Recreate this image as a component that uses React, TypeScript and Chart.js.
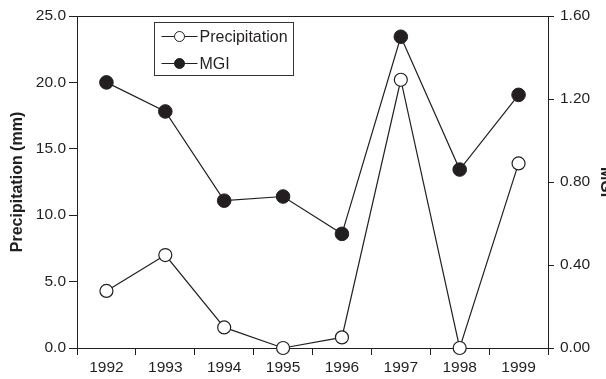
import React, { useEffect, useRef } from 'react';
import { Chart, registerables } from 'chart.js';

Chart.register(...registerables);

const years = ['1992', '1993', '1994', '1995', '1996', '1997', '1998', '1999'];
const precipitation = [4.3, 7.0, 1.55, 0.0, 0.8, 20.2, 0.0, 13.9];
const mgi = [1.28, 1.14, 0.71, 0.73, 0.55, 1.5, 0.86, 1.22];

const precipMin = 0;
const precipMax = 25;
const precipStep = 5;
const mgiMin = 0;
const mgiMax = 1.6;
const mgiStep = 0.4;

const leftTitle = 'Precipitation (mm)';
const rightTitle = 'MGI';

const FONT = "'Liberation Sans', Arial, Helvetica, sans-serif";
const INK = '#231f20';

const frameAndLegend = {
  id: 'frameAndLegend',
  afterDraw(chart: any) {
    const { ctx, chartArea } = chart;
    ctx.save();
    // top frame line
    ctx.strokeStyle = INK;
    ctx.lineWidth = 1;
    ctx.beginPath();
    ctx.moveTo(chartArea.left, Math.round(chartArea.top) + 0.5);
    ctx.lineTo(chartArea.right, Math.round(chartArea.top) + 0.5);
    ctx.stroke();

    // legend box
    const bx = Math.round(chartArea.left + 77) + 0.5;
    const by = Math.round(chartArea.top + 6) + 0.5;
    const bw = 139;
    const bh = 53;
    ctx.fillStyle = '#fff';
    ctx.fillRect(bx, by, bw, bh);
    ctx.strokeStyle = '#333';
    ctx.strokeRect(bx, by, bw, bh);

    ctx.font = `16px ${FONT}`;
    ctx.textBaseline = 'middle';
    ctx.textAlign = 'left';
    chart.data.datasets.forEach((ds: any, i: number) => {
      const cy = by + 14 + i * 27;
      const lx0 = bx + 7;
      const lx1 = bx + 43;
      ctx.strokeStyle = INK;
      ctx.lineWidth = 1;
      ctx.beginPath();
      ctx.moveTo(lx0, cy);
      ctx.lineTo(lx1, cy);
      ctx.stroke();
      ctx.beginPath();
      ctx.arc((lx0 + lx1) / 2, cy, 5, 0, Math.PI * 2);
      ctx.fillStyle = ds.pointBackgroundColor;
      ctx.fill();
      ctx.stroke();
      ctx.fillStyle = INK;
      ctx.fillText(ds.label, bx + 45, cy + 1);
    });
    ctx.restore();
  },
};

export default function App() {
  const ref = useRef<HTMLCanvasElement | null>(null);

  useEffect(() => {
    document.body.style.margin = '0';
    const canvas = ref.current;
    if (!canvas) return;
    const tickFont = { family: FONT, size: 15.5 };
    const titleFont = { family: FONT, size: 16, weight: 'bold' as const };
    const chart = new Chart(canvas, {
      type: 'line',
      data: {
        labels: years,
        datasets: [
          {
            label: 'Precipitation',
            data: precipitation,
            yAxisID: 'y',
            borderColor: INK,
            borderWidth: 1.2,
            pointBackgroundColor: '#ffffff',
            pointBorderColor: INK,
            pointBorderWidth: 1.2,
            pointRadius: 6.5,
            tension: 0,
            clip: false as any,
          },
          {
            label: 'MGI',
            data: mgi,
            yAxisID: 'y1',
            borderColor: INK,
            borderWidth: 1.2,
            pointBackgroundColor: INK,
            pointBorderColor: INK,
            pointBorderWidth: 1,
            pointRadius: 6.8,
            tension: 0,
            clip: false as any,
          },
        ],
      },
      options: {
        responsive: false,
        animation: false,
        devicePixelRatio: 1,
        layout: { padding: { top: 16, left: 0, right: 0, bottom: 0 } },
        plugins: {
          legend: { display: false },
          tooltip: { enabled: false },
        },
        scales: {
          x: {
            type: 'category',
            offset: true,
            grid: {
              offset: true,
              drawOnChartArea: false,
              tickLength: 7,
              color: INK,
            },
            border: { color: INK, width: 1 },
            ticks: { font: tickFont, color: INK, padding: 3, maxRotation: 0 },
            afterFit: (s: any) => {
              s.height = 31;
            },
          },
          y: {
            position: 'left',
            min: precipMin,
            max: precipMax,
            grid: { drawOnChartArea: false, tickLength: 8, color: INK },
            border: { color: INK, width: 1 },
            ticks: {
              stepSize: precipStep,
              font: tickFont,
              color: INK,
              padding: 3,
              callback: (v: any) => Number(v).toFixed(1),
            },
            title: {
              display: true,
              text: leftTitle,
              font: titleFont,
              color: INK,
              padding: { top: 8, bottom: 0 },
            },
            afterFit: (s: any) => {
              s.width = 77;
            },
          },
          y1: {
            position: 'right',
            min: mgiMin,
            max: mgiMax,
            grid: { drawOnChartArea: false, tickLength: 6, color: INK },
            border: { color: INK, width: 1 },
            ticks: {
              stepSize: mgiStep,
              font: tickFont,
              color: INK,
              padding: 6,
              callback: (v: any) => Number(v).toFixed(2),
            },
            title: {
              display: true,
              text: rightTitle,
              font: titleFont,
              color: INK,
              padding: { top: 0, bottom: 0 },
            },
            afterFit: (s: any) => {
              s.width = 67;
            },
          },
        },
      } as any,
      plugins: [frameAndLegend],
    });
    return () => chart.destroy();
  }, []);

  return (
    <div
      style={{
        position: 'fixed',
        left: 0,
        top: 0,
        width: 606,
        height: 379,
        overflow: 'hidden',
        background: '#fff',
      }}
    >
      <canvas ref={ref} width={615} height={379} style={{ display: 'block', width: 615, height: 379 }} />
    </div>
  );
}
